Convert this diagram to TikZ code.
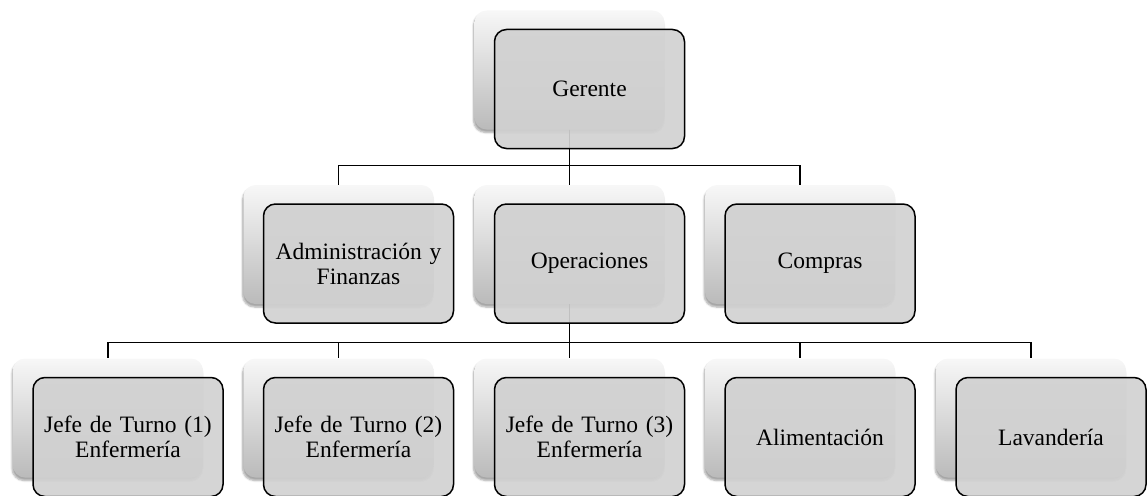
\documentclass[tikz,border=0pt]{standalone}
\usepackage{fontspec}
\setmainfont{Liberation Serif}
\usetikzlibrary{shadows.blur}

\tikzset{
  backbox/.style={
    minimum width=190pt, minimum height=119pt,
    rounded corners=12pt, draw=none,
    top color=white!97!black, middle color=white!91!black, bottom color=white!73!black,
    blur shadow={shadow xshift=-1pt, shadow yshift=-3pt, shadow blur steps=6, shadow opacity=35}
  },
  frontbox/.style={
    minimum width=190pt, minimum height=119pt, text width=180pt,
    align=center, inner sep=0pt,
    rounded corners=12pt, draw=black, line width=1.5pt,
    fill=white!82!black, fill opacity=0.92, text opacity=1,
    font=\fontsize{23.5}{25}\selectfont
  },
  link/.style={draw=black, line width=1.3pt}
}

\begin{document}
\begin{tikzpicture}[x=1pt,y=-1pt]
\useasboundingbox (0,0) rectangle (1147,495);

% shaded cards behind
\node[backbox] (gerB) at (569.5,70) {};
\node[backbox] (admB) at (338.5,244.5) {};
\node[backbox] (opsB) at (569.5,244.5) {};
\node[backbox] (comB) at (800,244.5) {};
\node[backbox] (j1B) at (108,418) {};
\node[backbox] (j2B) at (338.5,418) {};
\node[backbox] (j3B) at (569.5,418) {};
\node[backbox] (aliB) at (800,418) {};
\node[backbox] (lavB) at (1031,418) {};

% connectors
\draw[link] (gerB.south) -- ++(0,36) -| (admB.north);
\draw[link] (gerB.south) -- ++(0,36) -| (opsB.north);
\draw[link] (gerB.south) -- ++(0,36) -| (comB.north);
\draw[link] (opsB.south) -- ++(0,38) -| (j1B.north);
\draw[link] (opsB.south) -- ++(0,38) -| (j2B.north);
\draw[link] (opsB.south) -- ++(0,38) -| (j3B.north);
\draw[link] (opsB.south) -- ++(0,38) -| (aliB.north);
\draw[link] (opsB.south) -- ++(0,38) -| (lavB.north);

% labelled cards in front
\node[frontbox] (ger) at ([xshift=20pt,yshift=-19pt]gerB.center) {Gerente};
\node[frontbox] (adm) at ([xshift=20pt,yshift=-19pt]admB.center) {Administración y\\Finanzas};
\node[frontbox] (ops) at ([xshift=20pt,yshift=-19pt]opsB.center) {Operaciones};
\node[frontbox] (com) at ([xshift=20pt,yshift=-19pt]comB.center) {Compras};
\node[frontbox] (j1) at ([xshift=20pt,yshift=-19pt]j1B.center) {Jefe de Turno (1)\\Enfermería};
\node[frontbox] (j2) at ([xshift=20pt,yshift=-19pt]j2B.center) {Jefe de Turno (2)\\Enfermería};
\node[frontbox] (j3) at ([xshift=20pt,yshift=-19pt]j3B.center) {Jefe de Turno (3)\\Enfermería};
\node[frontbox] (ali) at ([xshift=20pt,yshift=-19pt]aliB.center) {Alimentación};
\node[frontbox] (lav) at ([xshift=20pt,yshift=-19pt]lavB.center) {Lavandería};
\end{tikzpicture}
\end{document}
